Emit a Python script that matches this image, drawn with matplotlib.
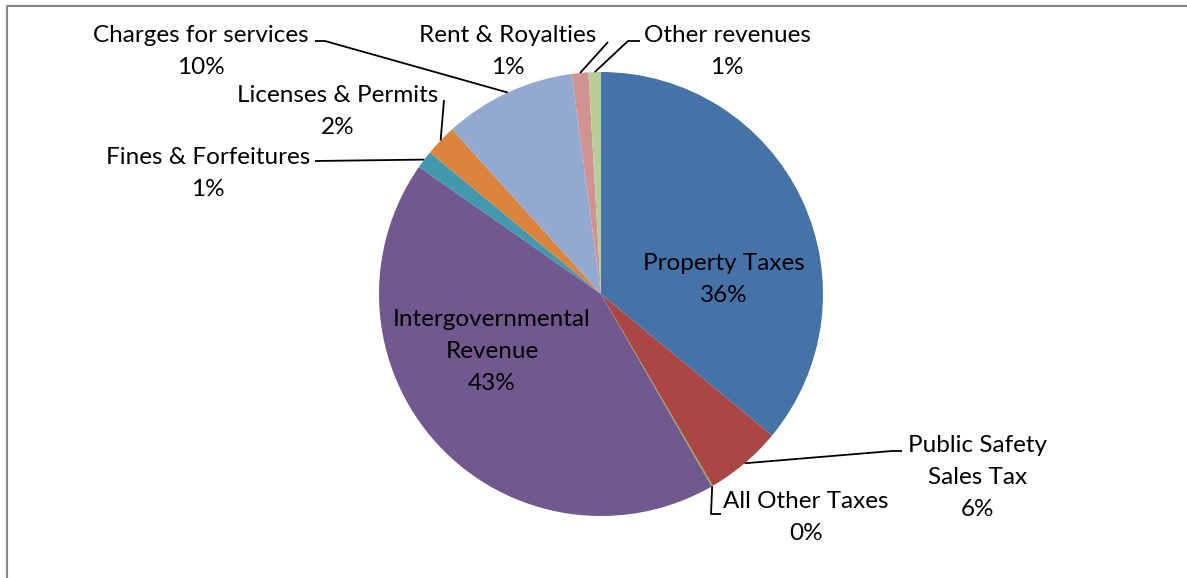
import numpy as np
import matplotlib
matplotlib.use("Agg")
import matplotlib.pyplot as plt

# ---- data ----
categories = ["Property Taxes", "Public Safety\nSales Tax", "All Other Taxes",
              "Intergovernmental\nRevenue", "Fines & Forfeitures", "Licenses & Permits",
              "Charges for services", "Rent & Royalties", "Other revenues"]
values = [36.0, 5.6, 0.1, 43.0, 1.3, 2.3, 9.6, 1.2, 0.9]
colors = ["#4572A7", "#AA4643", "#89A54E", "#71588F", "#4198AF", "#DB843D",
          "#93A9CF", "#D19392", "#B9CD96"]

# ---- layout (pixel coordinates, y from top) ----
W, H = 1187, 578
CX, CY, R = 601, 294, 222
# label center positions (x, y of first line center)
label_pos = [(724, 261), (978, 444), (806, 500), (492, 318), (208, 156),
             (338, 93), (201, 34), (508, 34), (727, 34)]
# leader line elbows (from label side), None for inside labels
elbows = [None,
          [(902, 451), (892, 451)],
          [(721, 514), (711, 514)],
          None,
          [(315, 161)],
          [(444, 100)],
          [(315, 41), (325, 41)],
          [(608, 42)],
          [(640, 41), (628, 41)]]

FONT = ["Lato", "DejaVu Sans"]
FS = 17.5
LINE = 32

fig = plt.figure(figsize=(W / 100, H / 100), dpi=100)
ax = fig.add_axes([0, 0, 1, 1])


def Y(y):
    return H - y


wedges, _ = ax.pie(values, colors=colors, startangle=90, counterclock=False,
                   center=(CX, Y(CY)), radius=R,
                   wedgeprops=dict(linewidth=0), frame=False)
ax.set_xlim(0, W)
ax.set_ylim(0, H)
ax.set_aspect("equal")
ax.axis("off")

total = sum(values)
for i, w in enumerate(wedges):
    mid = np.deg2rad((w.theta1 + w.theta2) / 2)
    ax_x = CX + R * np.cos(mid)
    ax_y = Y(CY) + R * np.sin(mid)
    pct = round(values[i] / total * 100)
    lines = categories[i].split("\n") + [f"{pct}%"]
    lx, ly = label_pos[i]
    for k, s in enumerate(lines):
        ax.text(lx, Y(ly + k * LINE), s, ha="center", va="center_baseline",
                fontsize=FS, family=FONT, color="black")
    if elbows[i] is not None:
        pts = [(x, Y(y)) for x, y in elbows[i]] + [(ax_x, ax_y)]
        xs, ys = zip(*pts)
        ax.plot(xs, ys, color="black", lw=1.3, solid_capstyle="butt")

# chart border
ax.plot([7, 7, W + 5], [Y(H + 5), Y(6), Y(6)], color="#878787", lw=1.5)

fig.savefig("out.png", dpi=100)
